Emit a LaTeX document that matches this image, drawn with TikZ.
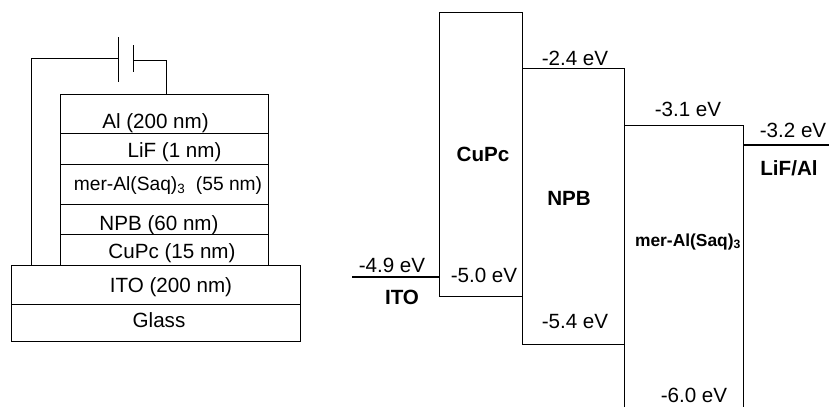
\documentclass[tikz,border=0pt]{standalone}
\usepackage{fontspec}
\setmainfont{Liberation Sans}
\tikzset{
  wire/.style={draw=black, line width=1pt},
  contact/.style={draw=black, line width=2pt},
  layerlabel/.style={anchor=base, inner sep=0pt, font=\fontsize{20.6}{24}\selectfont},
  smalllabel/.style={anchor=base, inner sep=0pt, font=\fontsize{19.2}{22}\selectfont},
  levellabel/.style={anchor=base, inner sep=0pt, font=\fontsize{20.6}{24}\selectfont},
  bandlabel/.style={anchor=base, inner sep=0pt, font=\bfseries\fontsize{20.6}{24}\selectfont},
  smallband/.style={anchor=base, inner sep=0pt, font=\bfseries\fontsize{17.4}{20}\selectfont}
}
\begin{document}
\begin{tikzpicture}[x=1pt, y=-1pt]
    \useasboundingbox (0,0) rectangle (830,407);
    % Device stack
    \draw[wire] (60,94) rectangle (268,265);
    \draw[wire] (60,133) -- (268,133);
    \draw[wire] (60,164) -- (268,164);
    \draw[wire] (60,204) -- (268,204);
    \draw[wire] (60,234) -- (268,234);
    \draw[wire] (11,265) rectangle (300,341);
    \draw[wire] (11,304) -- (300,304);
    \node[layerlabel] (al) at (155.5,128.5) {Al (200 nm)};
    \node[layerlabel] (lif) at (174.5,157) {LiF (1 nm)};
    \node[smalllabel] (mer) at (168,190) {mer-Al(Saq)\textsubscript{3}\ \ (55 nm)};
    \node[layerlabel] (npb) at (159,230) {NPB (60 nm)};
    \node[layerlabel] (cupc) at (172,258) {CuPc (15 nm)};
    \node[layerlabel] (ito) at (171,292) {ITO (200 nm)};
    \node[layerlabel] (glass) at (159,327) {Glass};
    % Battery and leads
    \coordinate (itopin) at (31,265);
    \coordinate (alpin) at (166,94);
    \coordinate (longtop) at (118,37);
    \coordinate (longbot) at (118,82);
    \coordinate (shorttop) at (133,45);
    \coordinate (shortbot) at (133,72);
    \coordinate (longmid) at (118,58);
    \coordinate (shortmid) at (133,60);
    \draw[wire] (longtop) -- (longbot);
    \draw[wire] (shorttop) -- (shortbot);
    \draw[wire] (itopin) |- (longmid);
    \draw[wire] (shortmid) -| (alpin);
    % Energy levels
    \draw[wire] (439,12) rectangle (522,296);
    \draw[wire] (522,68) rectangle (624,344);
    \draw[wire] (624,407) -- (624,125) -- (743,125) -- (743,407);
    \coordinate (itoleft) at (352,277);
    \coordinate (itoright) at (439,277);
    \coordinate (lifleft) at (743,145);
    \coordinate (lifright) at (829,145);
    \draw[contact] (itoleft) -- (itoright);
    \draw[contact] (lifleft) -- (lifright);
    \node[levellabel] (npbup) at (575,65) {-2.4 eV};
    \node[levellabel] (merup) at (688,116) {-3.1 eV};
    \node[levellabel] (lifup) at (793,137) {-3.2 eV};
    \node[levellabel] (itoup) at (392,272) {-4.9 eV};
    \node[levellabel] (cupcdown) at (484,282) {-5.0 eV};
    \node[levellabel] (npbdown) at (575,328) {-5.4 eV};
    \node[levellabel] (merdown) at (694,402) {-6.0 eV};
    \node[bandlabel] (cupcband) at (483,161) {CuPc};
    \node[bandlabel] (npbband) at (569,205) {NPB};
    \node[smallband] (merband) at (688,246) {mer-Al(Saq)\textsubscript{3}};
    \node[bandlabel] (lifband) at (789,175) {LiF/Al};
    \node[bandlabel] (itoband) at (402,304) {ITO};
\end{tikzpicture}
\end{document}
